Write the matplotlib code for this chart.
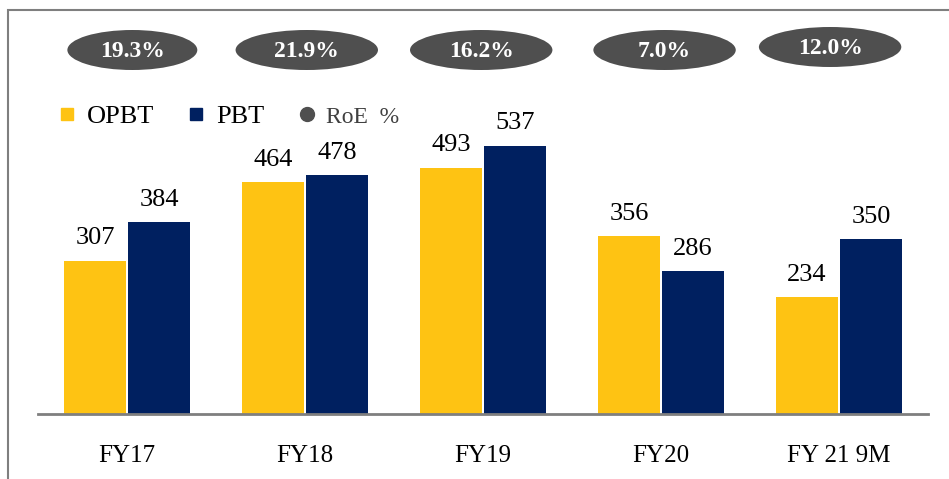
import matplotlib.pyplot as plt
from matplotlib.patches import Ellipse, Rectangle
from matplotlib.lines import Line2D
import numpy as np

categories = ['FY17', 'FY18', 'FY19', 'FY20', 'FY 21 9M']
opbt = [307, 464, 493, 356, 234]
pbt = [384, 478, 537, 286, 350]
roe = ['19.3%', '21.9%', '16.2%', '7.0%', '12.0%']

yellow = '#FEC313'
navy = '#002060'
grey = '#4F4F4F'

plt.rcParams['font.family'] = ['Liberation Serif', 'DejaVu Serif']

W, H = 949, 479
fig = plt.figure(figsize=(W / 100, H / 100), dpi=100)

# outer frame (cut at right and bottom like the slide)
fig.patches.append(Rectangle((8 / W, -0.1), 1.2, 1.1 - 10 / H, transform=fig.transFigure,
                             fill=False, edgecolor='#7F7F7F', linewidth=1.5))

ax = fig.add_axes([38 / W, 1 - 414 / H, 890 / W, 400 / H])
ax.set_xlim(-0.5, 4.5)
ax.set_ylim(0, 800)

x = np.arange(len(categories))
w = 0.35
b1 = ax.bar(x - w / 2 - 0.005, opbt, w, color=yellow)
b2 = ax.bar(x + w / 2 + 0.005, pbt, w, color=navy)

for bars in (b1, b2):
    for b in bars:
        ax.annotate(f'{int(b.get_height())}', (b.get_x() + b.get_width() / 2, b.get_height()),
                    xytext=(0, 8), textcoords='offset points', ha='center', va='bottom',
                    fontsize=19, color='black')

# RoE ellipses
roe_x = [0.03, 1.01, 1.99, 3.02, 3.95]
roe_w = [0.73, 0.8, 0.8, 0.8, 0.8]
roe_y = [728, 728, 728, 728, 734]
for xi, yi, wi, t in zip(roe_x, roe_y, roe_w, roe):
    ax.add_patch(Ellipse((xi, yi), wi, 80, facecolor=grey, edgecolor='none', clip_on=False))
    ax.text(xi, yi - 3, t, ha='center', va='center', color='white', fontsize=17,
            fontweight='bold')

ax.set_xticks(x)
ax.set_xticklabels(categories, fontsize=18)
ax.tick_params(axis='x', length=0, pad=22)
ax.set_yticks([])
for s in ['top', 'right', 'left']:
    ax.spines[s].set_visible(False)
ax.spines['bottom'].set_color('#7F7F7F')
ax.spines['bottom'].set_linewidth(2)

handles = [
    Line2D([], [], marker='s', linestyle='none', color=yellow, markersize=9),
    Line2D([], [], marker='s', linestyle='none', color=navy, markersize=9),
    Line2D([], [], marker='o', linestyle='none', color=grey, markersize=10),
]
leg = ax.legend(handles, ['OPBT', 'PBT', 'RoE  %'], ncol=3, frameon=False,
                loc='center left', bbox_to_anchor=(-0.012, 0.745), fontsize=19,
                handletextpad=0.15, columnspacing=1.0, handlelength=1.2)
leg.get_texts()[2].set_fontsize(17)
leg.get_texts()[2].set_color('#404040')

fig.savefig('out.png', dpi=100)
